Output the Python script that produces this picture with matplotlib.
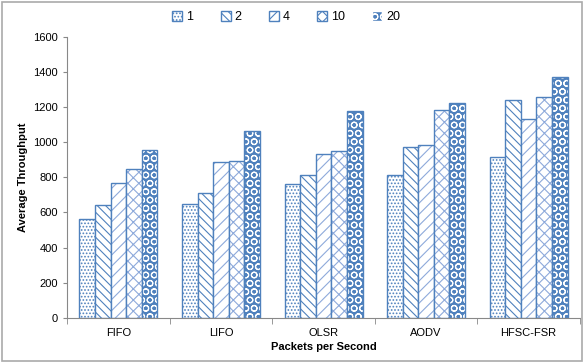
import numpy as np
import matplotlib
matplotlib.use('Agg')
import matplotlib.pyplot as plt
from matplotlib.patches import Patch, Rectangle

categories = ['FIFO', 'LIFO', 'OLSR', 'AODV', 'HFSC-FSR']
series = ['1', '2', '4', '10', '20']
vals_1 = [565, 650, 760, 815, 915]
vals_2 = [640, 710, 815, 975, 1240]
vals_4 = [770, 890, 935, 985, 1130]
vals_10 = [850, 895, 950, 1185, 1260]
vals_20 = [955, 1065, 1180, 1225, 1370]
yticks = [0, 200, 400, 600, 800, 1000, 1200, 1400, 1600]

blue = '#4f81bd'
light = '#8eaadb'
plt.rcParams['font.family'] = ['Liberation Sans', 'DejaVu Sans']
plt.rcParams['hatch.linewidth'] = 0.8

fig = plt.figure(figsize=(5.84, 3.62), dpi=100)
ax = fig.add_axes([0.115, 0.122, 0.878, 0.776])

x = np.arange(len(categories))
w = 0.152
data = [vals_1, vals_2, vals_4, vals_10, vals_20]
hatches = ['.....', '\\\\\\\\', '///', 'xxx', 'o']
handles = []
for i, (vals, h) in enumerate(zip(data, hatches)):
    pos = x + (i - 2) * w
    if i == 4:
        ax.bar(pos, vals, w, color=blue, hatch='OO', edgecolor='white', linewidth=0)
        ax.bar(pos, vals, w, fill=False, edgecolor=blue, linewidth=1.0)
        handles.append(Patch(facecolor=blue, edgecolor='white', hatch='OO'))
    else:
        ec = blue if i < 2 else light
        ax.bar(pos, vals, w, color='white', hatch=h, edgecolor=ec, linewidth=0)
        ax.bar(pos, vals, w, fill=False, edgecolor=blue, linewidth=1.0)
        handles.append(Patch(facecolor='white', edgecolor=blue, hatch=h))

ax.set_xlim(-0.5, len(categories) - 0.5)
ax.set_ylim(0, 1600)
ax.set_yticks(yticks)
ax.set_xticks(x)
ax.set_xticklabels(categories, fontsize=8)
ax.set_xticks(np.arange(len(categories) + 1) - 0.5, minor=True)
ax.tick_params(axis='x', which='major', length=0, pad=7)
ax.tick_params(axis='x', which='minor', length=4, color='#888888')
ax.tick_params(axis='y', labelsize=8, length=3, color='#888888')
for s in ['top', 'right']:
    ax.spines[s].set_visible(False)
for s in ['left', 'bottom']:
    ax.spines[s].set_color('#888888')

ax.set_ylabel('Average Throughput', fontsize=8, fontweight='bold', labelpad=4)
ax.set_xlabel('Packets per Second', fontsize=8, fontweight='bold', labelpad=3)

fig.legend(handles, series, loc='upper center', bbox_to_anchor=(0.49, 1.0), ncol=5,
           frameon=False, fontsize=9, handlelength=0.8, handleheight=0.8,
           handletextpad=0.3, columnspacing=2.2)

fig.patches.append(Rectangle((0.003, 0.003), 0.994, 0.992, transform=fig.transFigure,
                             fill=False, edgecolor='#aaaaaa', linewidth=1.2))

fig.savefig('out.png', dpi=100)
